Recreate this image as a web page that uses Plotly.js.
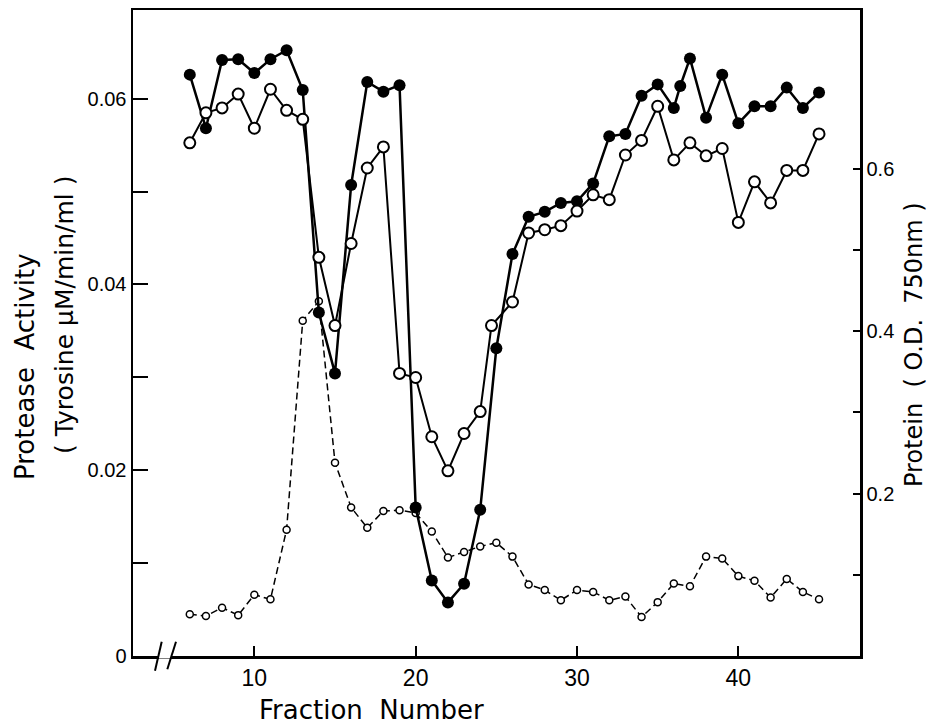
<!DOCTYPE html>
<html>
<head>
<meta charset="utf-8">
<script src="https://cdn.plot.ly/plotly-3.0.1.min.js"></script>
<style>html,body{margin:0;padding:0;background:#fff;}#chart{width:930px;height:726px;}</style>
</head>
<body>
<div id="chart"></div>
<script>
// Fraction numbers
const fracFilled = [6,7,8,9,10,11,12,13,14,15,16,17,18,19,20,21,22,23,24,25,26,27,28,29,30,31,32,33,34,35,36,36.4,37,38,39,40,41,42,43,44,45];
const proteinFilled = [0.716,0.650,0.734,0.735,0.718,0.735,0.746,0.697,0.423,0.348,0.580,0.707,0.695,0.703,0.183,0.093,0.066,0.089,0.180,0.379,0.495,0.541,0.547,0.558,0.560,0.582,0.640,0.643,0.690,0.704,0.675,0.702,0.736,0.663,0.716,0.656,0.677,0.677,0.700,0.675,0.694];

const fracOpen = [6,7,8,9,10,11,12,13,14,15,16,17,18,19,20,21,22,23,24,24.7,26,27,28,29,30,31,32,33,34,35,36,37,38,39,40,41,42,43,44,45];
const proteinOpen = [0.632,0.669,0.675,0.692,0.650,0.698,0.672,0.661,0.491,0.407,0.508,0.601,0.627,0.348,0.343,0.270,0.228,0.274,0.301,0.407,0.436,0.521,0.525,0.530,0.548,0.568,0.562,0.617,0.635,0.677,0.611,0.632,0.616,0.625,0.534,0.584,0.558,0.598,0.598,0.643];

const fracActivity = [6,7,8,9,10,11,12,13,14,15,16,17,18,19,20,21,22,23,24,25,26,27,28,29,30,31,32,33,34,35,36,37,38,39,40,41,42,43,44,45];
const activity = [0.0045,0.0043,0.0052,0.0044,0.0066,0.0061,0.0136,0.0361,0.0382,0.0208,0.0160,0.0138,0.0156,0.0157,0.0154,0.0134,0.0106,0.0112,0.0118,0.0122,0.0107,0.0077,0.0071,0.0060,0.0071,0.0069,0.0060,0.0064,0.0042,0.0058,0.0078,0.0075,0.0107,0.0105,0.0086,0.0081,0.0063,0.0083,0.0069,0.0061];

const xTicks = [10,20,30,40];
const yTicks = [0,0.02,0.04,0.06];
const yTickText = ['0','0.02','0.04','0.06'];
const yMinor = [0.01,0.03,0.05];
const y2Ticks = [0.2,0.4,0.6];
const y2TickText = ['0.2','0.4','0.6'];
const y2Minor = [0.1,0.3,0.5];

const FONT = 'DejaVu Sans, sans-serif';
const TICKFONT = 'Liberation Sans, Arial, sans-serif';

const traces = [
  {x: fracActivity, y: activity, yaxis: 'y', mode: 'lines+markers', type: 'scatter',
   line: {color: '#000', width: 1.5, dash: '7px,4px'},
   marker: {symbol: 'circle', size: 7, color: '#fff', line: {color: '#000', width: 1.5}},
   showlegend: false, hoverinfo: 'x+y'},
  {x: fracFilled, y: proteinFilled, yaxis: 'y2', mode: 'lines+markers', type: 'scatter',
   line: {color: '#000', width: 2.5},
   marker: {symbol: 'circle', size: 12, color: '#000', line: {color: '#000', width: 0}},
   showlegend: false, hoverinfo: 'x+y'},
  {x: fracOpen, y: proteinOpen, yaxis: 'y2', mode: 'lines+markers', type: 'scatter',
   line: {color: '#000', width: 2},
   marker: {symbol: 'circle', size: 11, color: '#fff', line: {color: '#000', width: 2}},
   showlegend: false, hoverinfo: 'x+y'}
];

function px(xp){ return (xp-133)/727; }
function py(yp){ return (656-yp)/646; }

const layout = {
  width: 930, height: 726,
  margin: {l: 133, r: 70, t: 10, b: 70, pad: 0},
  paper_bgcolor: '#fff', plot_bgcolor: '#fff',
  font: {family: FONT, color: '#000'},
  xaxis: {
    range: [2.48, 47.54], tickvals: xTicks, ticks: 'inside', ticklen: 10, tickwidth: 2,
    tickcolor: '#000', showline: true, linecolor: '#000', linewidth: 2.5, mirror: true,
    showgrid: false, zeroline: false, tickfont: {family: TICKFONT, size: 23, color: '#000'}
  },
  yaxis: {
    range: [0, 0.06955], tickvals: yTicks, ticktext: yTickText, ticks: 'inside', ticklen: 15, tickwidth: 2,
    tickcolor: '#000', showline: true, linecolor: '#000', linewidth: 2.5,
    showgrid: false, zeroline: false, tickfont: {family: TICKFONT, size: 20, color: '#000'},
    minor: {tickvals: yMinor, ticks: 'inside', ticklen: 15, tickwidth: 2, tickcolor: '#000', showgrid: false}
  },
  yaxis2: {
    range: [0, 0.7956], tickvals: y2Ticks, ticktext: y2TickText, ticks: 'inside', ticklen: 7, tickwidth: 2,
    tickcolor: '#000', showline: true, linecolor: '#000', linewidth: 2.5, side: 'right', overlaying: 'y',
    showgrid: false, zeroline: false, tickfont: {family: TICKFONT, size: 20, color: '#000'},
    minor: {tickvals: y2Minor, ticks: 'inside', ticklen: 7, tickwidth: 2, tickcolor: '#000', showgrid: false}
  },
  shapes: [
    {type: 'line', xref: 'paper', yref: 'paper', x0: px(159), x1: px(171), y0: 0, y1: 0, line: {color: '#fff', width: 5}},
    {type: 'line', xref: 'paper', yref: 'paper', x0: px(155), y0: py(670.7), x1: px(161.7), y1: py(641.7), line: {color: '#000', width: 2}},
    {type: 'line', xref: 'paper', yref: 'paper', x0: px(167.3), y0: py(669.3), x1: px(176), y1: py(641.7), line: {color: '#000', width: 2}}
  ],
  annotations: [
    {text: 'Protease&nbsp;&nbsp;Activity', xref: 'paper', yref: 'paper', x: px(25), y: py(367), textangle: -90,
     xanchor: 'center', yanchor: 'middle', showarrow: false, font: {family: FONT, size: 26, color: '#000'}},
    {text: '( Tyrosine μM/min/ml )', xref: 'paper', yref: 'paper', x: px(64), y: py(315), textangle: -90,
     xanchor: 'center', yanchor: 'middle', showarrow: false, font: {family: FONT, size: 25, color: '#000'}},
    {text: 'Protein&nbsp;&nbsp;( O.D.&nbsp;&nbsp;750nm )', xref: 'paper', yref: 'paper', x: px(914), y: py(345), textangle: -90,
     xanchor: 'center', yanchor: 'middle', showarrow: false, font: {family: FONT, size: 24, color: '#000'}},
    {text: 'Fraction&nbsp;&nbsp;Number', xref: 'paper', yref: 'paper', x: px(371), y: py(710),
     xanchor: 'center', yanchor: 'middle', showarrow: false, font: {family: FONT, size: 26, color: '#000'}}
  ]
};

Plotly.newPlot('chart', traces, layout, {displayModeBar: false, staticPlot: true});
</script>
</body>
</html>
